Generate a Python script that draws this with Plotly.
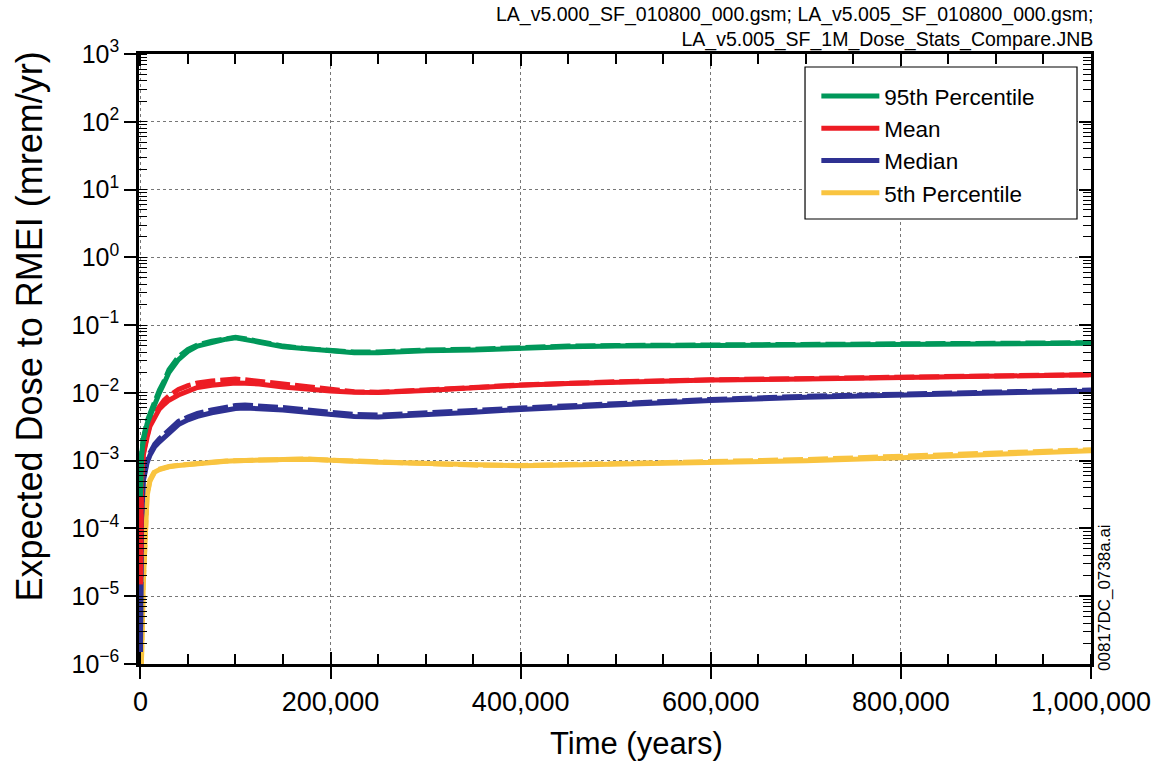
import plotly.graph_objects as go

# Time grid (years)
time = [0, 1000, 3000, 5000, 7000, 10000, 15000, 20000, 25000, 30000, 40000, 50000, 60000,
        75000, 90000, 100000, 110000, 125000, 150000, 175000, 200000, 225000, 250000,
        300000, 350000, 400000, 450000, 500000, 600000, 700000, 800000, 900000, 1000000]

# 95th percentile (solid: v5.000, dashed: v5.005)
p95_a = [3e-4, 1.1e-3, 2.0e-3, 2.8e-3, 3.5e-3, 4.5e-3, 7.0e-3, 1.0e-2, 1.4e-2, 2.0e-2, 3.1e-2, 4.1e-2, 4.9e-2,
         5.6e-2, 6.2e-2, 6.5e-2, 6.2e-2, 5.6e-2, 4.8e-2, 4.5e-2, 4.2e-2, 3.9e-2, 3.9e-2,
         4.2e-2, 4.3e-2, 4.6e-2, 4.8e-2, 4.9e-2, 5.0e-2, 5.1e-2, 5.2e-2, 5.3e-2, 5.4e-2]
p95_b = [3e-4, 1.2e-3, 2.1e-3, 3.0e-3, 3.8e-3, 4.9e-3, 7.6e-3, 1.1e-2, 1.5e-2, 2.2e-2, 3.4e-2, 4.4e-2, 5.1e-2,
         5.8e-2, 6.3e-2, 6.6e-2, 6.3e-2, 5.7e-2, 4.9e-2, 4.5e-2, 4.2e-2, 4.0e-2, 4.0e-2,
         4.3e-2, 4.4e-2, 4.7e-2, 4.9e-2, 5.0e-2, 5.1e-2, 5.2e-2, 5.3e-2, 5.4e-2, 5.5e-2]

# Mean
mean_a = [1.5e-5, 4.7e-4, 1.2e-3, 1.7e-3, 2.2e-3, 3.2e-3, 4.5e-3, 5.8e-3, 6.8e-3, 7.8e-3, 9.3e-3, 1.07e-2, 1.2e-2,
          1.3e-2, 1.37e-2, 1.4e-2, 1.39e-2, 1.35e-2, 1.22e-2, 1.13e-2, 1.07e-2, 1.02e-2, 1.01e-2,
          1.08e-2, 1.2e-2, 1.3e-2, 1.38e-2, 1.45e-2, 1.55e-2, 1.6e-2, 1.68e-2, 1.75e-2, 1.85e-2]
mean_b = [1.5e-5, 5.0e-4, 1.3e-3, 1.8e-3, 2.4e-3, 3.5e-3, 5.0e-3, 6.5e-3, 7.8e-3, 9.0e-3, 1.12e-2, 1.28e-2, 1.4e-2,
          1.5e-2, 1.57e-2, 1.6e-2, 1.56e-2, 1.48e-2, 1.35e-2, 1.2e-2, 1.1e-2, 1.04e-2, 1.02e-2,
          1.09e-2, 1.2e-2, 1.31e-2, 1.39e-2, 1.46e-2, 1.56e-2, 1.62e-2, 1.69e-2, 1.76e-2, 1.86e-2]

# Median
med_a = [1.5e-6, 1.2e-4, 5.0e-4, 7.5e-4, 9.3e-4, 1.2e-3, 1.6e-3, 1.9e-3, 2.2e-3, 2.6e-3, 3.4e-3, 4.0e-3, 4.5e-3,
         5.1e-3, 5.6e-3, 5.9e-3, 6.0e-3, 5.9e-3, 5.6e-3, 5.2e-3, 4.8e-3, 4.5e-3, 4.4e-3,
         4.7e-3, 5.2e-3, 5.7e-3, 6.2e-3, 6.7e-3, 7.7e-3, 8.6e-3, 9.4e-3, 1.0e-2, 1.06e-2]
med_b = [1.5e-6, 1.3e-4, 5.4e-4, 8.2e-4, 1.0e-3, 1.3e-3, 1.75e-3, 2.1e-3, 2.45e-3, 2.9e-3, 3.8e-3, 4.4e-3, 5.0e-3,
         5.6e-3, 6.2e-3, 6.5e-3, 6.6e-3, 6.5e-3, 6.1e-3, 5.6e-3, 5.2e-3, 4.8e-3, 4.7e-3,
         5.0e-3, 5.5e-3, 6.0e-3, 6.5e-3, 7.0e-3, 8.0e-3, 8.9e-3, 9.7e-3, 1.03e-2, 1.1e-2]

# 5th percentile
p05_a = [1e-6, 1e-6, 1.5e-5, 1.2e-4, 3.0e-4, 5.0e-4, 6.8e-4, 7.4e-4, 7.8e-4, 8.1e-4, 8.5e-4, 8.8e-4, 9.0e-4,
         9.5e-4, 9.8e-4, 1.0e-3, 1.0e-3, 1.02e-3, 1.04e-3, 1.05e-3, 1.0e-3, 9.8e-4, 9.5e-4,
         9.0e-4, 8.5e-4, 8.4e-4, 8.6e-4, 8.8e-4, 9.4e-4, 1.0e-3, 1.1e-3, 1.25e-3, 1.4e-3]
p05_b = [1e-6, 1e-6, 1.6e-5, 1.3e-4, 3.2e-4, 5.2e-4, 7.0e-4, 7.5e-4, 7.9e-4, 8.2e-4, 8.6e-4, 8.9e-4, 9.1e-4,
         9.6e-4, 9.9e-4, 1.0e-3, 1.01e-3, 1.03e-3, 1.05e-3, 1.06e-3, 1.02e-3, 9.9e-4, 9.6e-4,
         9.1e-4, 8.6e-4, 8.5e-4, 8.7e-4, 9.0e-4, 9.7e-4, 1.04e-3, 1.15e-3, 1.3e-3, 1.45e-3]

names = ["95th Percentile", "Mean", "Median", "5th Percentile"]
colors = ["#00985A", "#ED1C24", "#2E3192", "#F9C440"]
solid = [p95_a, mean_a, med_a, p05_a]
dashed = [p95_b, mean_b, med_b, p05_b]

# Tick labels
y_tickvals = [1e-6, 1e-5, 1e-4, 1e-3, 1e-2, 1e-1, 1e0, 1e1, 1e2, 1e3]
y_ticktext = ["10<sup>\u22126</sup>", "10<sup>\u22125</sup>", "10<sup>\u22124</sup>", "10<sup>\u22123</sup>",
              "10<sup>\u22122</sup>", "10<sup>\u22121</sup>", "10<sup>0</sup>", "10<sup>1</sup>",
              "10<sup>2</sup>", "10<sup>3</sup>"]
x_tickvals = [0, 200000, 400000, 600000, 800000, 1000000]
x_ticktext = ["0", "200,000", "400,000", "600,000", "800,000", "1,000,000"]

FONT = "Liberation Sans, Arial, sans-serif"

fig = go.Figure()
for i in range(3, -1, -1):
    fig.add_trace(go.Scatter(x=time, y=solid[i], mode="lines", name=names[i],
                             line=dict(color=colors[i], width=5), legendrank=i + 1))
    fig.add_trace(go.Scatter(x=time, y=dashed[i], mode="lines", name=names[i],
                             showlegend=False,
                             line=dict(color=colors[i], width=5, dash="20px,5px")))

x_range = [-1500, 1000000]
y_range = [-6, 3]

minor_x = dict(dtick=50000, tick0=0, ticks="inside", ticklen=10, tickwidth=1.5,
               tickcolor="black", showgrid=False)
minor_y = dict(dtick="D1", ticks="inside", ticklen=8, tickwidth=1.2,
               tickcolor="black", showgrid=False)

fig.update_layout(
    width=1157, height=766,
    margin=dict(l=139, r=66, t=54, b=102),
    paper_bgcolor="white", plot_bgcolor="white",
    font=dict(family=FONT, color="black"),
    showlegend=True,
    legend=dict(x=0.7115, y=0.9656, xanchor="left", yanchor="top",
                bgcolor="rgba(0,0,0,0)", borderwidth=0,
                font=dict(size=22.5, family=FONT), traceorder="normal",
                tracegroupgap=0, itemwidth=58),
    xaxis=dict(range=x_range, tickvals=x_tickvals, ticktext=x_ticktext, automargin=False,
               showgrid=True, gridcolor="#777777", griddash="dot", gridwidth=1,
               showline=True, linecolor="black", linewidth=2.5,
               ticks="outside", ticklen=12, tickwidth=1.5, tickcolor="black",
               minor=minor_x, tickfont=dict(size=27), zeroline=False),
    yaxis=dict(type="log", range=y_range, tickvals=y_tickvals, ticktext=y_ticktext, automargin=False,
               showgrid=True, gridcolor="#777777", griddash="dot", gridwidth=1,
               showline=True, linecolor="black", linewidth=2.5,
               ticks="outside", ticklen=12, tickwidth=1.5, tickcolor="black",
               minor=minor_y, tickfont=dict(size=25), zeroline=False),
    xaxis2=dict(overlaying="x", side="top", range=x_range, tickvals=x_tickvals, automargin=False,
                showticklabels=False, showgrid=False, showline=True, linecolor="black",
                linewidth=2.5, ticks="inside", ticklen=12, tickwidth=1.5, tickcolor="black",
                minor=minor_x, zeroline=False),
    xaxis3=dict(overlaying="x", side="bottom", range=x_range, tickvals=x_tickvals, automargin=False,
                showticklabels=False, showgrid=False, showline=False,
                ticks="inside", ticklen=12, tickwidth=1.5, tickcolor="black", zeroline=False),
    yaxis2=dict(overlaying="y", side="right", type="log", range=y_range, tickvals=y_tickvals,
                automargin=False,
                showticklabels=False, showgrid=False, showline=True, linecolor="black",
                linewidth=2.5, ticks="inside", ticklen=12, tickwidth=1.5, tickcolor="black",
                minor=minor_y, zeroline=False),
)

# invisible traces to bind the mirror axes
fig.add_trace(go.Scatter(x=[0], y=[1e-6], xaxis="x2", yaxis="y2", mode="markers",
                         marker=dict(opacity=0), showlegend=False, hoverinfo="skip"))
fig.add_trace(go.Scatter(x=[0], y=[1e-6], xaxis="x3", yaxis="y", mode="markers",
                         marker=dict(opacity=0), showlegend=False, hoverinfo="skip"))

# Legend frame
fig.add_shape(type="rect", xref="paper", yref="paper", x0=0.6996, x1=0.9853, y0=0.7295, y1=0.9787,
              fillcolor="white", line=dict(color="black", width=1.2), layer="above")

# Axis titles
fig.add_annotation(xref="paper", yref="paper", x=0.523, y=-0.131, xanchor="center",
                   yanchor="middle", showarrow=False, text="Time (years)",
                   font=dict(size=31, family=FONT))
fig.add_annotation(xref="paper", yref="paper", x=-0.115, y=0.5525, xanchor="center",
                   yanchor="middle", showarrow=False, textangle=-90,
                   text="Expected Dose to RMEI (mrem/yr)", font=dict(size=36, family=FONT))

fig.add_annotation(xref="paper", yref="paper", x=1.004, y=1.0, yshift=1,
                   xanchor="right", yanchor="bottom", align="right", showarrow=False,
                   text="LA_v5.000_SF_010800_000.gsm; LA_v5.005_SF_010800_000.gsm;<br>"
                        "LA_v5.005_SF_1M_Dose_Stats_Compare.JNB",
                   font=dict(size=19.5, family=FONT))
fig.add_annotation(xref="paper", yref="paper", x=1.0147, y=0.11, textangle=-90,
                   xanchor="center", yanchor="middle", showarrow=False,
                   text="00817DC_0738a.ai", font=dict(size=17, family=FONT))

fig.write_html("out.html")
